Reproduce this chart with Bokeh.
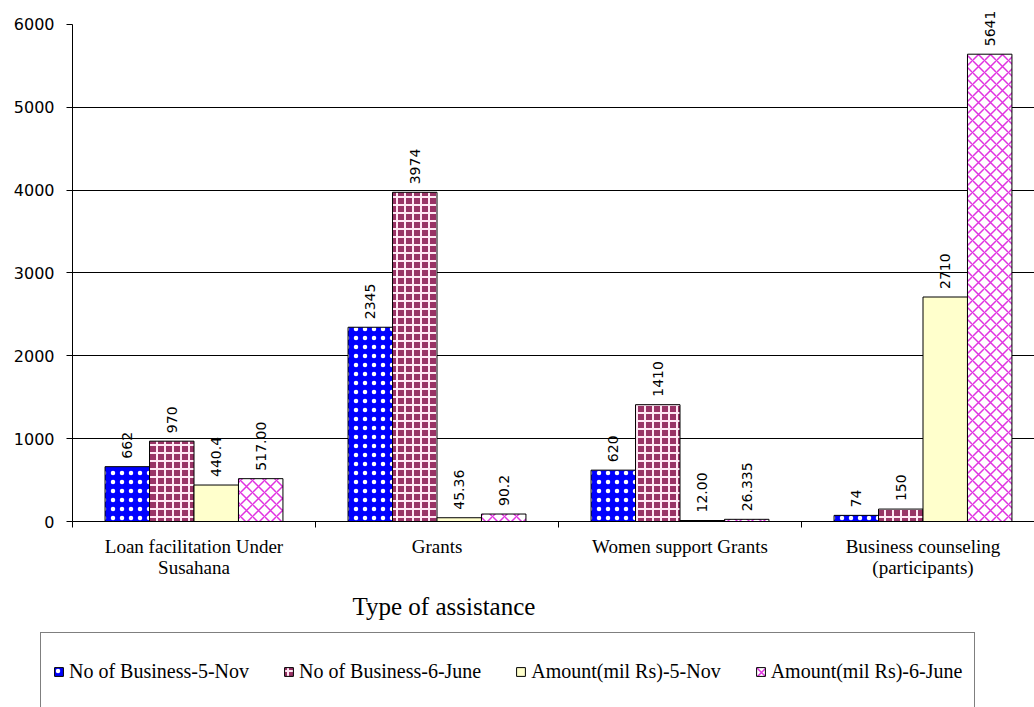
from bokeh.plotting import figure
from bokeh.layouts import column, row
from bokeh.models import (Range1d, FixedTicker, ColumnDataSource, LabelSet,
                          Legend, LegendItem, Title)
from bokeh.core.properties import value
from bokeh.embed import file_html
from bokeh.resources import INLINE

# ---------------- data ----------------
categories = ["Loan facilitation Under\nSusahana", "Grants",
              "Women support Grants", "Business counseling\n(participants)"]
series_names = ["No of Business-5-Nov", "No of Business-6-June",
                "Amount(mil Rs)-5-Nov", "Amount(mil Rs)-6-June"]
biz_5nov = [662, 2345, 620, 74]
biz_6june = [970, 3974, 1410, 150]
amt_5nov = [440.4, 45.36, 12.00, 2710]
amt_6june = [517.00, 90.2, 26.335, 5641]
lbl_biz_5nov = ["662", "2345", "620", "74"]
lbl_biz_6june = ["970", "3974", "1410", "150"]
lbl_amt_5nov = ["440.4", "45.36", "12.00", "2710"]
lbl_amt_6june = ["517.00", "90.2", "26.335", "5641"]
y_ticks = [0, 1000, 2000, 3000, 4000, 5000, 6000]
grid_ticks = [1000, 2000, 3000, 4000, 5000]
x_axis_title = "Type of assistance"

series_values = [biz_5nov, biz_6june, amt_5nov, amt_6june]
series_labels = [lbl_biz_5nov, lbl_biz_6june, lbl_amt_5nov, lbl_amt_6june]

# ---------------- styles ----------------
styles = [
    dict(fill_color="#0000FF", hatch_pattern="dot", hatch_color="white",
         hatch_scale=9, hatch_weight=0.5),
    dict(fill_color="#993366", hatch_pattern="cross", hatch_color="#FFE8F4",
         hatch_scale=8, hatch_weight=2),
    dict(fill_color="#FFFFCC"),
    dict(fill_color="#FFFFFF", hatch_pattern="diagonal_cross", hatch_color="#E033E0",
         hatch_scale=12, hatch_weight=1.5),
]

W = 1034
H_MAIN = 630
H_LEG = 77
FRAME_LEFT = 72
FRAME_BOTTOM = 522
PX_PER_GROUP = 243
PX_PER_1000 = 83

p = figure(width=W, height=H_MAIN, output_backend="svg", toolbar_location=None,
           x_range=Range1d(0, (W - FRAME_LEFT) / PX_PER_GROUP),
           y_range=Range1d(0, 6000 + 24 * 1000 / PX_PER_1000),
           min_border_left=FRAME_LEFT, min_border_right=0, min_border_top=0,
           min_border_bottom=H_MAIN - FRAME_BOTTOM)
p.outline_line_color = None
p.background_fill_color = "white"
p.border_fill_color = "white"

bw = 0.183
renderers = []
n = len(categories)
for k, (vals, labs, st) in enumerate(zip(series_values, series_labels, styles)):
    xs = [i + 0.5 + (k - 1.5) * bw for i in range(n)]
    src = ColumnDataSource(dict(x=xs, top=vals, lab=labs))
    r = p.vbar(x="x", top="top", bottom=0, width=bw, source=src,
               line_color="black", line_width=1, **st)
    renderers.append(r)
    ls = LabelSet(x="x", y="top", text="lab", source=src, angle=1.5708,
                  text_align="left", text_baseline="middle", y_offset=8,
                  text_font=value("DejaVu Sans"), text_font_size=value("14px"),
                  text_color="black")
    p.add_layout(ls)

# axes
p.yaxis.ticker = FixedTicker(ticks=y_ticks)
p.yaxis.bounds = (0, 6000)
p.yaxis.major_tick_out = 6
p.yaxis.major_tick_in = 0
p.yaxis.minor_tick_line_color = None
p.yaxis.major_label_text_font = "DejaVu Sans"
p.yaxis.major_label_text_font_size = "16px"
p.yaxis.major_label_text_color = "black"
p.yaxis.major_label_standoff = 12
p.yaxis.axis_line_color = "black"
p.yaxis.major_tick_line_color = "black"

centers = [i + 0.5 for i in range(n)]
p.xaxis.ticker = FixedTicker(ticks=centers, minor_ticks=list(range(n)))
p.xaxis.major_label_overrides = {c: lab for c, lab in zip(centers, categories)}
p.xaxis.major_tick_line_color = None
p.xaxis.minor_tick_line_color = "black"
p.xaxis.minor_tick_out = 6
p.xaxis.minor_tick_in = 0
p.xaxis.major_label_text_font = "Liberation Serif"
p.xaxis.major_label_text_font_size = "19px"
p.xaxis.major_label_text_line_height = 1.0
p.xaxis.major_label_text_color = "black"
p.xaxis.major_label_standoff = 8
p.xaxis.axis_line_color = "black"

p.xgrid.grid_line_color = None
p.ygrid.ticker = FixedTicker(ticks=grid_ticks)
p.ygrid.grid_line_color = "black"
p.ygrid.grid_line_width = 1

title = Title(text=x_axis_title, align="left", offset=280, standoff=21,
              text_font="Liberation Serif", text_font_size="25px",
              text_font_style="normal", text_color="black")
p.add_layout(title, "below")

# ---------------- legend strip ----------------
lf = figure(width=W, height=H_LEG, output_backend="svg", toolbar_location=None,
            x_range=Range1d(0, 1), y_range=Range1d(0, 1),
            x_axis_location=None, y_axis_location=None,
            min_border_left=40, min_border_right=0, min_border_top=2,
            min_border_bottom=0)
lf.outline_line_color = None
lf.xgrid.grid_line_color = None
lf.ygrid.grid_line_color = None
leg_renderers = []
for st in styles:
    r = lf.vbar(x=[-10], top=[1], width=0.1, line_color="black", line_width=1, **st)
    leg_renderers.append(r)

legend = Legend(items=[LegendItem(label=nm, renderers=[r]) for nm, r in zip(series_names, leg_renderers)],
                location="top_left", orientation="horizontal", padding=12, spacing=34,
                label_standoff=5, glyph_width=11, glyph_height=11, label_height=52,
                border_line_color="black", border_line_width=1.5,
                label_text_font="Liberation Serif", label_text_font_size="20px",
                label_text_color="black", background_fill_color="white",
                background_fill_alpha=1, margin=0)
lf.add_layout(legend)

layout = column(p, row(lf, spacing=0), spacing=0)
open("out.html", "w").write(file_html(layout, INLINE))
